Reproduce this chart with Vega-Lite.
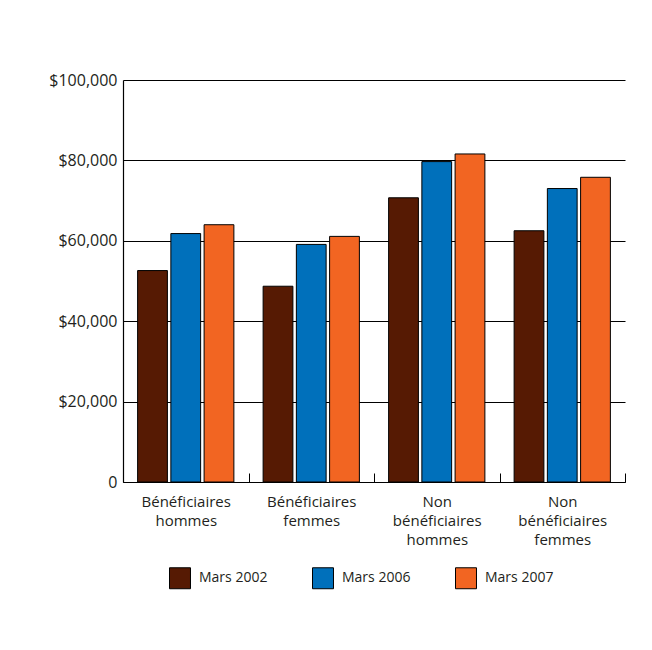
{
  "$schema": "https://vega.github.io/schema/vega-lite/v6.json",
  "autosize": {"type": "none"},
  "width": 502,
  "height": 402,
  "padding": {"left": 123, "top": 80, "right": 27, "bottom": 168},
  "background": "white",
  "config": {
    "font": "Open Sans",
    "view": {"stroke": null},
    "axis": {"labelColor": "#231F20", "labelFont": "Open Sans"}
  },
  "data": {
    "values": [
      {"categorie": "Bénéficiaires hommes", "periode": "Mars 2002", "valeur": 52600},
      {"categorie": "Bénéficiaires hommes", "periode": "Mars 2006", "valeur": 61800},
      {"categorie": "Bénéficiaires hommes", "periode": "Mars 2007", "valeur": 64000},
      {"categorie": "Bénéficiaires femmes", "periode": "Mars 2002", "valeur": 48700},
      {"categorie": "Bénéficiaires femmes", "periode": "Mars 2006", "valeur": 59100},
      {"categorie": "Bénéficiaires femmes", "periode": "Mars 2007", "valeur": 61100},
      {"categorie": "Non bénéficiaires hommes", "periode": "Mars 2002", "valeur": 70700},
      {"categorie": "Non bénéficiaires hommes", "periode": "Mars 2006", "valeur": 79700},
      {"categorie": "Non bénéficiaires hommes", "periode": "Mars 2007", "valeur": 81600},
      {"categorie": "Non bénéficiaires femmes", "periode": "Mars 2002", "valeur": 62500},
      {"categorie": "Non bénéficiaires femmes", "periode": "Mars 2006", "valeur": 73000},
      {"categorie": "Non bénéficiaires femmes", "periode": "Mars 2007", "valeur": 75800}
    ]
  },
  "mark": {"type": "bar", "stroke": "black", "strokeWidth": 1},
  "encoding": {
    "x": {
      "field": "categorie",
      "type": "nominal",
      "sort": null,
      "scale": {"paddingInner": 0, "paddingOuter": 0},
      "axis": {
        "title": null,
        "labelAngle": 0,
        "labelExpr": "isValid(datum.value) ? split(datum.value, ' ') : ''",
        "labelFontSize": 15,
        "labelLineHeight": 19,
        "labelPadding": 21,
        "labelBaseline": "top",
        "tickBand": "extent",
        "tickSize": -9,
        "tickColor": "black",
        "domainColor": "black",
        "domainWidth": 1.2
      }
    },
    "xOffset": {
      "field": "periode",
      "type": "nominal",
      "scale": {"paddingInner": 0.104, "paddingOuter": 0.44}
    },
    "y": {
      "field": "valeur",
      "type": "quantitative",
      "scale": {"domain": [0, 100000]},
      "axis": {
        "title": null,
        "values": [0, 20000, 40000, 60000, 80000, 100000],
        "labelExpr": "datum.value == 0 ? '0' : '$' + format(datum.value, ',')",
        "labelFontSize": 16,
        "labelPadding": 6,
        "ticks": false,
        "grid": true,
        "gridColor": "black",
        "gridOpacity": 1,
        "gridWidth": 1,
        "domainColor": "black",
        "domainWidth": 1.2
      }
    },
    "color": {
      "field": "periode",
      "type": "nominal",
      "scale": {"range": ["#561A03", "#0070BB", "#F26522"]},
      "legend": {
        "title": null,
        "orient": "none",
        "legendX": 46,
        "legendY": 487,
        "direction": "horizontal",
        "columns": 3,
        "columnPadding": 42,
        "symbolType": "square",
        "symbolSize": 440,
        "symbolStrokeColor": "black",
        "symbolStrokeWidth": 1,
        "symbolOpacity": 1,
        "labelFontSize": 14,
        "labelOffset": 8,
        "labelColor": "#231F20"
      }
    }
  }
}
